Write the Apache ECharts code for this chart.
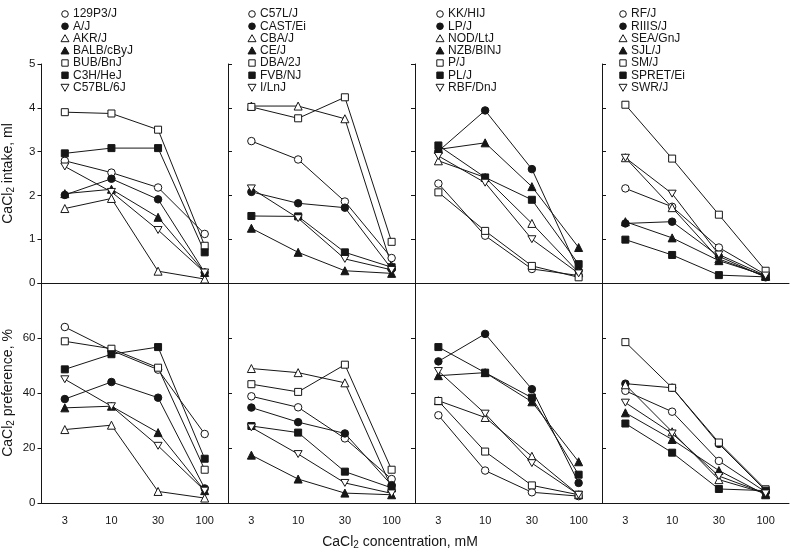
<!DOCTYPE html>
<html>
<head>
<meta charset="utf-8">
<script src="https://cdn.jsdelivr.net/npm/echarts@6/dist/echarts.min.js"></script>
<style>
html,body{margin:0;padding:0;background:#fff;}
#chart{width:800px;height:559px;}
</style>
</head>
<body>
<div id="chart"></div>
<script>
// ---------- data ----------
const concentrations = ['3', '10', '30', '100'];
const intakeTicks = [0, 1, 2, 3, 4, 5];
const prefTicks = [0, 20, 40, 60];

const strainsA = ['129P3/J', 'A/J', 'AKR/J', 'BALB/cByJ', 'BUB/BnJ', 'C3H/HeJ', 'C57BL/6J'];
const strainsB = ['C57L/J', 'CAST/Ei', 'CBA/J', 'CE/J', 'DBA/2J', 'FVB/NJ', 'I/LnJ'];
const strainsC = ['KK/HIJ', 'LP/J', 'NOD/LtJ', 'NZB/BINJ', 'P/J', 'PL/J', 'RBF/DnJ'];
const strainsD = ['RF/J', 'RIIIS/J', 'SEA/GnJ', 'SJL/J', 'SM/J', 'SPRET/Ei', 'SWR/J'];

// CaCl2 intake, ml (rows follow strain order; columns follow concentrations)
const intakeA = [
  [2.79, 2.52, 2.18, 1.12],
  [2.01, 2.38, 1.91, 0.24],
  [1.70, 1.93, 0.27, 0.09],
  [2.04, 2.14, 1.50, 0.24],
  [3.90, 3.87, 3.50, 0.85],
  [2.96, 3.08, 3.08, 0.70],
  [2.66, 2.08, 1.21, 0.24]
];
const intakeB = [
  [3.24, 2.82, 1.86, 0.57],
  [2.08, 1.82, 1.72, 0.32],
  [4.04, 4.04, 3.75, 0.39],
  [1.25, 0.70, 0.28, 0.22],
  [4.02, 3.76, 4.24, 0.94],
  [1.53, 1.52, 0.70, 0.36],
  [2.16, 1.48, 0.55, 0.30]
];
const intakeC = [
  [2.27, 1.08, 0.32, 0.17],
  [3.01, 3.94, 2.60, 0.28],
  [2.79, 2.41, 1.36, 0.24],
  [3.05, 3.20, 2.20, 0.81],
  [2.07, 1.19, 0.39, 0.13],
  [3.14, 2.41, 1.90, 0.43],
  [2.90, 2.29, 1.00, 0.22]
];
const intakeD = [
  [2.16, 1.74, 0.81, 0.19],
  [1.36, 1.40, 0.61, 0.13],
  [2.86, 1.72, 0.55, 0.15],
  [1.40, 1.03, 0.51, 0.17],
  [4.07, 2.84, 1.56, 0.28],
  [0.99, 0.64, 0.18, 0.14],
  [2.86, 2.04, 0.65, 0.17]
];

// CaCl2 preference, %
const prefA = [
  [64.0, 55.5, 48.5, 25.1],
  [37.8, 44.0, 38.3, 5.3],
  [26.7, 28.3, 4.2, 1.8],
  [34.6, 35.2, 25.6, 4.5],
  [58.8, 56.1, 49.2, 12.1],
  [48.6, 54.1, 56.7, 16.1],
  [45.0, 35.2, 20.8, 4.5]
];
const prefB = [
  [38.8, 34.8, 23.5, 8.7],
  [34.7, 29.4, 25.3, 6.5],
  [48.9, 47.4, 43.7, 5.5],
  [17.4, 8.7, 3.6, 3.0],
  [43.2, 40.4, 50.3, 12.1],
  [28.0, 25.6, 11.4, 5.5],
  [27.5, 17.8, 7.3, 3.5]
];
const prefC = [
  [31.9, 11.8, 3.9, 2.5],
  [51.5, 61.5, 41.4, 7.3],
  [37.2, 31.1, 17.0, 3.0],
  [46.3, 47.4, 36.8, 15.0],
  [37.1, 18.7, 6.4, 3.0],
  [56.7, 47.4, 38.3, 10.3],
  [48.0, 32.5, 14.5, 3.0]
];
const prefD = [
  [40.8, 33.2, 15.3, 4.0],
  [43.4, 41.9, 21.5, 4.5],
  [43.0, 25.9, 8.5, 3.5],
  [32.8, 23.1, 11.8, 3.0],
  [58.5, 41.9, 22.0, 5.0],
  [28.9, 18.3, 5.1, 4.5],
  [36.5, 25.3, 9.8, 3.5]
];

// ---------- layout / style ----------
const FONT = "'Liberation Sans', Arial, Helvetica, sans-serif";
const INK = '#161616';
const DOWN = 'path://M0,0L10,0L5,8.66Z';
const markers = [
  { symbol: 'circle', kind: 'circle', fill: '#fff', size: 7.5 },
  { symbol: 'circle', kind: 'circle', fill: INK, size: 7.5 },
  { symbol: 'triangle', kind: 'up', fill: '#fff', size: 8 },
  { symbol: 'triangle', kind: 'up', fill: INK, size: 8 },
  { symbol: 'rect', kind: 'rect', fill: '#fff', size: 7 },
  { symbol: 'rect', kind: 'rect', fill: INK, size: 7 },
  { symbol: DOWN, kind: 'down', fill: '#fff', size: 8 }
];
const groups = [strainsA, strainsB, strainsC, strainsD];
const intake = [intakeA, intakeB, intakeC, intakeD];
const pref = [prefA, prefB, prefC, prefD];
const lefts = [41, 228, 415, 602];
const W = 187;
const rows = [{ top: 64, height: 219 }, { top: 283, height: 220 }];
const legendX = [65, 252, 440, 623];
const legendY0 = 14, legendStep = 12.25;
const tickInside = [false, true, false, true];

const grids = [], xAxes = [], yAxes = [], series = [], graphics = [];
const subRich = {
  a: { fontSize: 14, fontFamily: FONT, color: INK },
  s: { fontSize: 10, fontFamily: FONT, color: INK, padding: [7, 0, 0, 0] }
};

for (let r = 0; r < 2; r++) {
  for (let c = 0; c < 4; c++) {
    const idx = r * 4 + c;
    grids.push({ left: lefts[c], top: rows[r].top, width: W, height: rows[r].height });
    xAxes.push({
      type: 'category', gridIndex: idx, data: concentrations, boundaryGap: true,
      axisLine: { lineStyle: { color: INK, width: 1 } },
      axisTick: { alignWithLabel: true, inside: true, length: 4, lineStyle: { color: INK } },
      axisLabel: { show: r === 1, color: INK, fontSize: 11, fontFamily: FONT, margin: 12 },
      splitLine: { show: false }
    });
    const y = {
      type: 'value', gridIndex: idx,
      min: 0,
      max: r === 0 ? intakeTicks[intakeTicks.length - 1] : 80,
      interval: r === 0 ? 1 : 20,
      axisLine: { show: true, lineStyle: { color: INK, width: 1 } },
      axisTick: { show: true, inside: tickInside[c], length: 4, lineStyle: { color: INK } },
      axisLabel: {
        show: c === 0, color: INK, fontSize: 11.5, fontFamily: FONT, margin: 6,
        formatter: function (v) {
          const list = r === 0 ? intakeTicks : prefTicks;
          return list.indexOf(v) >= 0 ? String(v) : '';
        }
      },
      splitLine: { show: false }
    };
    if (c === 0) {
      y.name = r === 0 ? '{a|CaCl}{s|2}{a| intake, ml}' : '{a|CaCl}{s|2}{a| preference, %}';
      y.nameLocation = 'middle';
      y.nameGap = 25;
      y.nameRotate = 90;
      y.nameTextStyle = { rich: subRich };
    }
    yAxes.push(y);

    const vals = r === 0 ? intake[c] : pref[c];
    groups[c].forEach(function (name, k) {
      const m = markers[k];
      series.push({
        type: 'line', name: name, xAxisIndex: idx, yAxisIndex: idx,
        data: vals[k],
        symbol: m.symbol, symbolSize: m.size, symbolKeepAspect: true,
        showAllSymbol: true,
        lineStyle: { color: INK, width: 1 },
        itemStyle: { color: m.fill, borderColor: INK, borderWidth: 1 },
        emphasis: { disabled: true },
        animation: false
      });
    });
  }
}

// legend key (symbol + strain name) for each column
function keyShape(kind, cx, cy, fill) {
  const st = { fill: fill, stroke: INK, lineWidth: 1 };
  if (kind === 'circle') return { type: 'circle', shape: { cx: cx, cy: cy, r: 3.3 }, style: st };
  if (kind === 'rect') return { type: 'rect', shape: { x: cx - 3.2, y: cy - 3.2, width: 6.4, height: 6.4 }, style: st };
  if (kind === 'up') return { type: 'polygon', shape: { points: [[cx, cy - 3.8], [cx + 4, cy + 3.2], [cx - 4, cy + 3.2]] }, style: st };
  return { type: 'polygon', shape: { points: [[cx - 4, cy - 3.2], [cx + 4, cy - 3.2], [cx, cy + 3.8]] }, style: st };
}
for (let c = 0; c < 4; c++) {
  groups[c].forEach(function (name, k) {
    const cy = legendY0 + k * legendStep;
    graphics.push(keyShape(markers[k].kind, legendX[c], cy, markers[k].fill));
    graphics.push({
      type: 'text', x: legendX[c] + 8, y: cy,
      style: { text: name, fill: INK, font: '12px ' + FONT, verticalAlign: 'middle', align: 'left' }
    });
  });
}
graphics.push({
  type: 'text', left: 'center', top: 535,
  style: { text: '{a|CaCl}{s|2}{a| concentration, mM}', rich: subRich, fill: INK }
});

const chart = echarts.init(document.getElementById('chart'), null, { renderer: 'canvas' });
chart.setOption({
  backgroundColor: '#fff',
  animation: false,
  grid: grids, xAxis: xAxes, yAxis: yAxes, series: series,
  graphic: graphics
});
</script>
</body>
</html>
